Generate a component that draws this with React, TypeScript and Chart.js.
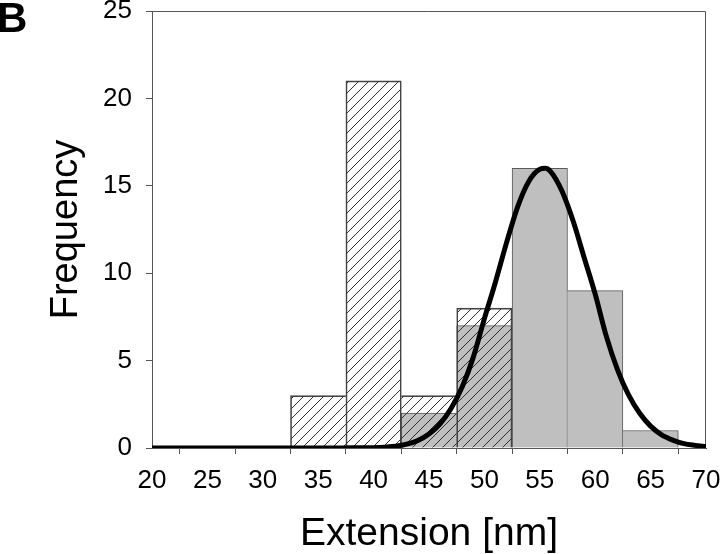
import React, { useEffect, useRef } from "react";
import { Chart, registerables } from "chart.js";

Chart.register(...registerables);

// ---- data ----
const X_MIN = 20;
const X_MAX = 70;
const X_STEP = 5;
const Y_MIN = 0;
const Y_MAX = 25;
const Y_STEP = 5;

// hatched (white) histogram
const HATCH_X = [35, 40, 45, 50];
const HATCH_Y = [3, 21, 3, 8];

// gray histogram
const GRAY_X = [45, 50, 55, 60, 65];
const GRAY_Y = [2, 7, 16, 9, 1];

// fitted curve
const CURVE_X = [20, 30, 35, 38, 40, 41, 42, 43, 44, 45, 46, 47, 48, 49, 50, 51, 52, 53, 54, 55, 55.5, 56, 57, 58, 59, 60, 61, 62, 63, 64, 65, 66, 67, 68, 69, 70];
const CURVE_Y = [0, 0, 0, 0.01, 0.02, 0.05, 0.1, 0.22, 0.43, 0.8, 1.38, 2.27, 3.5, 5.2, 7.4, 9.5, 11.75, 13.8, 15.25, 15.95, 16.0, 15.8, 14.7, 13.0, 10.9, 8.8, 6.4, 4.5, 3.05, 2.0, 1.25, 0.75, 0.45, 0.25, 0.15, 0.08];

const X_TITLE = "Extension [nm]";
const Y_TITLE = "Frequency";
const PANEL_LABEL = "B";

const FONT = "'Liberation Sans', Arial, Helvetica, sans-serif";
const AXIS_COLOR = "#555";

function edgeBorders(values: number[]) {
  return (ctx: any) => {
    const i = ctx.dataIndex;
    const v = values[i];
    const prev = values[i - 1];
    const next = values[i + 1];
    return {
      top: 1,
      bottom: 0,
      left: prev === undefined || prev < v ? 1 : 0,
      right: next === undefined || next <= v ? 1 : 0,
    };
  };
}

function makeHatch(): CanvasPattern | string {
  const c = document.createElement("canvas");
  c.width = 10;
  c.height = 10;
  const g = c.getContext("2d");
  if (!g) return "rgba(0,0,0,0)";
  g.strokeStyle = "#2e2e2e";
  g.lineWidth = 1;
  g.beginPath();
  g.moveTo(0, 10);
  g.lineTo(10, 0);
  g.moveTo(-5, 5);
  g.lineTo(5, -5);
  g.moveTo(5, 15);
  g.lineTo(15, 5);
  g.stroke();
  const p = g.createPattern(c, "repeat");
  return p || "rgba(0,0,0,0)";
}

const framePlugin = {
  id: "frame",
  beforeDatasetsDraw(chart: any) {
    const { ctx, chartArea } = chart;
    const { left, top, right, bottom } = chartArea;
    ctx.save();
    ctx.strokeStyle = AXIS_COLOR;
    ctx.lineWidth = 1;
    ctx.beginPath();
    ctx.moveTo(left, Math.round(top) + 0.5);
    ctx.lineTo(Math.round(right) - 0.5, Math.round(top) + 0.5);
    ctx.lineTo(Math.round(right) - 0.5, bottom);
    ctx.stroke();
    ctx.restore();
  },
};

export default function App() {
  const ref = useRef<HTMLCanvasElement | null>(null);

  useEffect(() => {
    if (!ref.current) return;
    Chart.defaults.font.family = FONT;
    const hatch = makeHatch();

    const chart = new Chart(ref.current, {
      type: "bar",
      data: {
        datasets: [
          {
            type: "line",
            label: "fit",
            data: CURVE_X.map((x, i) => ({ x, y: CURVE_Y[i] })),
            borderColor: "#000",
            borderWidth: 5,
            pointRadius: 0,
            cubicInterpolationMode: "monotone",
            fill: false,
            order: 0,
          } as any,
          {
            type: "bar",
            label: "hatched",
            data: HATCH_X.map((x, i) => ({ x, y: HATCH_Y[i] })),
            backgroundColor: hatch as any,
            borderColor: "#444",
            borderWidth: edgeBorders(HATCH_Y) as any,
            borderSkipped: false,
            barPercentage: 1,
            categoryPercentage: 1,
            grouped: false,
            order: 1,
          } as any,
          {
            type: "bar",
            label: "gray",
            data: GRAY_X.map((x, i) => ({ x, y: GRAY_Y[i] })),
            backgroundColor: "#bfbfbf",
            borderColor: "#5a5a5a",
            borderWidth: edgeBorders(GRAY_Y) as any,
            borderSkipped: false,
            barPercentage: 1,
            categoryPercentage: 1,
            grouped: false,
            order: 2,
          } as any,
        ],
      },
      options: {
        responsive: false,
        animation: false,
        layout: { padding: { left: 0, top: 11, right: 14, bottom: 0 } },
        plugins: {
          legend: { display: false },
          tooltip: { enabled: false },
          title: { display: false },
        },
        scales: {
          x: {
            type: "linear",
            min: X_MIN,
            max: X_MAX,
            offset: false,
            ticks: {
              stepSize: X_STEP,
              color: "#000",
              padding: 14,
              font: { size: 26, lineHeight: 1 },
              maxRotation: 0,
              autoSkip: false,
            },
            grid: {
              drawOnChartArea: false,
              drawTicks: true,
              tickLength: 6,
              color: AXIS_COLOR,
            },
            border: { display: true, color: AXIS_COLOR, width: 1 },
            title: {
              display: true,
              text: X_TITLE,
              color: "#000",
              font: { size: 39, lineHeight: 1 },
              padding: { top: 0, bottom: 0 },
            },
            afterFit: (s: any) => {
              s.height = 106;
              s.paddingLeft = 0;
              s.paddingRight = 0;
            },
          } as any,
          y: {
            type: "linear",
            min: Y_MIN,
            max: Y_MAX,
            ticks: {
              stepSize: Y_STEP,
              color: "#000",
              padding: 14,
              font: { size: 26, lineHeight: 1 },
            },
            grid: {
              drawOnChartArea: false,
              drawTicks: true,
              tickLength: 6,
              color: AXIS_COLOR,
            },
            border: { display: true, color: AXIS_COLOR, width: 1 },
            title: {
              display: true,
              text: Y_TITLE,
              color: "#000",
              font: { size: 38, lineHeight: 1 },
              padding: { top: 48, bottom: 0 },
            },
            afterFit: (s: any) => {
              s.width = 152;
              s.paddingTop = 0;
              s.paddingBottom = 0;
            },
          } as any,
        },
      },
      plugins: [framePlugin],
    });

    return () => chart.destroy();
  }, []);

  return (
    <div style={{ position: "absolute", left: 0, top: 0, width: 720, height: 554, background: "#fff" }}>
      <canvas ref={ref} width={720} height={554} style={{ display: "block" }} />
      <span
        style={{
          position: "absolute",
          left: -3,
          top: -3,
          fontFamily: FONT,
          fontWeight: "bold",
          fontSize: 42,
          lineHeight: "42px",
          color: "#000",
        }}
      >
        {PANEL_LABEL}
      </span>
    </div>
  );
}
